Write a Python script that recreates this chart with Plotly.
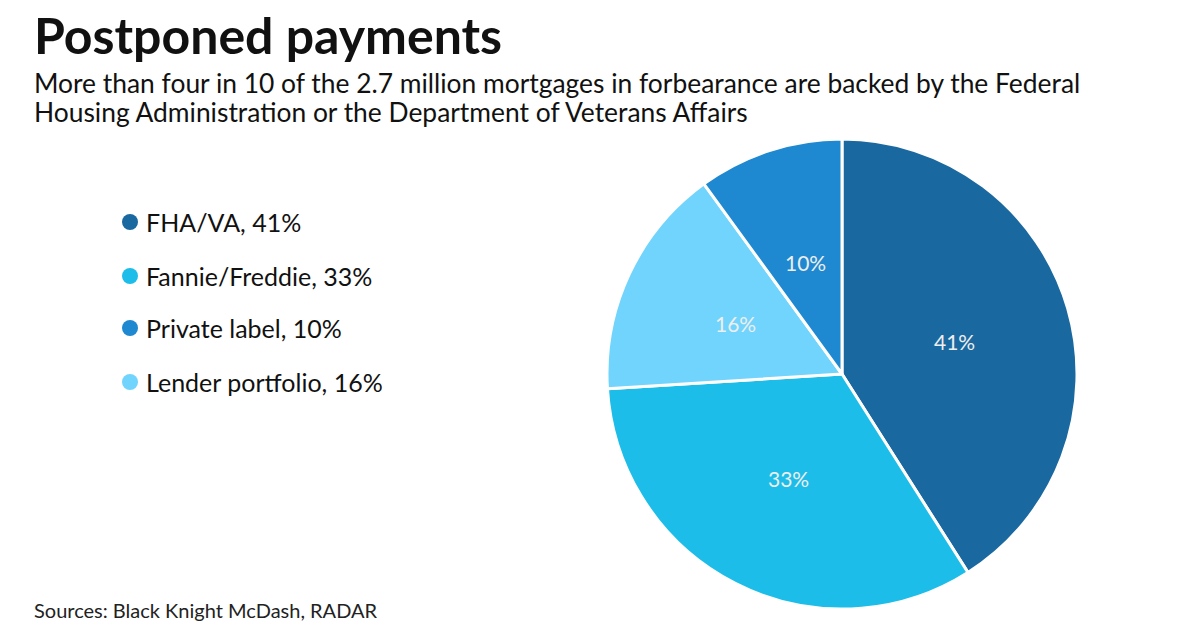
import math
import plotly.graph_objects as go

labels = ["FHA/VA", "Fannie/Freddie", "Lender portfolio", "Private label"]
values = [41, 33, 16, 10]
colors = ["#1a68a0", "#1dbde9", "#70d4fd", "#1e88d0"]

legend_labels = ["FHA/VA", "Fannie/Freddie", "Private label", "Lender portfolio"]
legend_values = [41, 33, 10, 16]
legend_colors = ["#1a68a0", "#1dbde9", "#1e88d0", "#70d4fd"]

title = "Postponed payments"
subtitle_lines = ["More than four in 10 of the 2.7 million mortgages in forbearance are backed by the Federal",
                  "Housing Administration or the Department of Veterans Affairs"]
source = "Sources: Black Knight McDash, RADAR"

W, H = 1200, 630
FONT = "Lato, 'Noto Sans', sans-serif"

def px(x):
    return x / W

def py(y):
    return 1 - y / H

cx, cy, r = 842, 374, 235

fig = go.Figure()
fig.add_trace(go.Pie(
    labels=labels, values=values, sort=False, direction="clockwise", rotation=0,
    marker=dict(colors=colors, line=dict(color="white", width=3)),
    textinfo="none", showlegend=False, hoverinfo="label+percent",
    domain=dict(x=[px(cx - r), px(cx + r)], y=[py(cy + r), py(cy - r)]),
))

annotations = [
    dict(text=f"<b>{title}</b>", x=px(32), y=py(3), xref="paper", yref="paper",
         xanchor="left", yanchor="top", showarrow=False,
         font=dict(family=FONT, size=50, color="#111111")),
    dict(text=source, x=px(32), y=py(610), xref="paper", yref="paper",
         xanchor="left", yanchor="middle", showarrow=False,
         font=dict(family=FONT, size=20, color="#222222")),
]
for line, yy in zip(subtitle_lines, [83, 112]):
    annotations.append(dict(text=line, x=px(32), y=py(yy), xref="paper", yref="paper",
                            xanchor="left", yanchor="middle", showarrow=False,
                            font=dict(family=FONT, size=26.4, color="#111111")))

# slice value labels at half radius along each slice's mid-angle (clockwise from top)
total = sum(values)
cum = 0
for v in values:
    mid = (cum + v / 2) / total * 2 * math.pi
    cum += v
    lx = cx + 0.5 * r * math.sin(mid)
    ly = cy - 0.5 * r * math.cos(mid)
    annotations.append(dict(text=f"{v}%", x=px(lx), y=py(ly), xref="paper", yref="paper",
                            xanchor="center", yanchor="middle", showarrow=False,
                            font=dict(family=FONT, size=21, color="#eeeeee")))

shapes = []
row_y = [222, 276, 328, 382]
for lab, val, col, yy in zip(legend_labels, legend_values, legend_colors, row_y):
    annotations.append(dict(text=f"{lab}, {val}%", x=px(144), y=py(yy), xref="paper", yref="paper",
                            xanchor="left", yanchor="middle", showarrow=False,
                            font=dict(family=FONT, size=25, color="#111111")))
    shapes.append(dict(type="circle", xref="paper", yref="paper", xsizemode="pixel", ysizemode="pixel",
                       xanchor=px(130), yanchor=py(yy), x0=-8, x1=8, y0=-8, y1=8,
                       fillcolor=col, line=dict(width=0)))

fig.update_layout(
    width=W, height=H, margin=dict(l=0, r=0, t=0, b=0),
    paper_bgcolor="white", plot_bgcolor="white",
    annotations=annotations, shapes=shapes,
)
fig.write_html("out.html", config={"displayModeBar": False},
               post_script="document.body.style.margin='0';")
